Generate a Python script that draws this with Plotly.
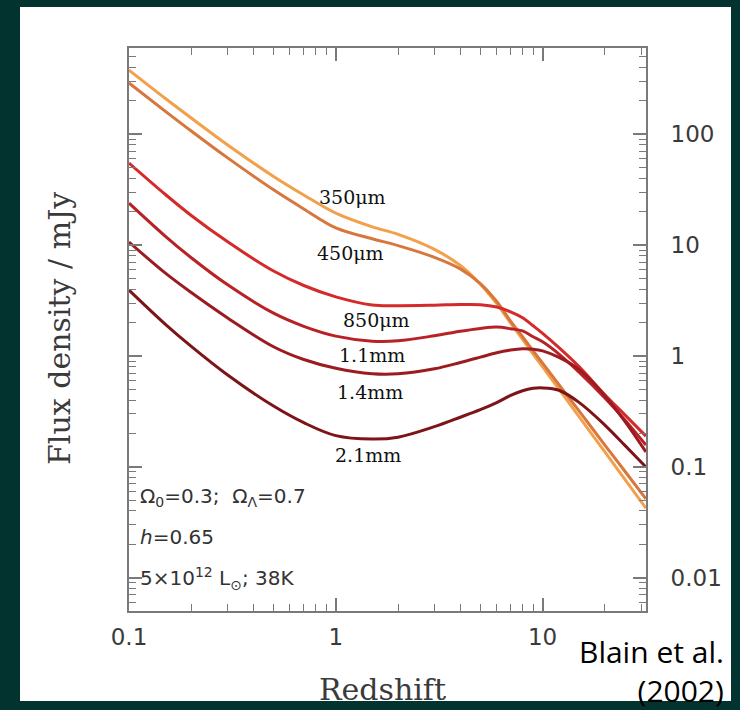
import plotly.graph_objects as go

# Redshift grid
redshift = [0.1, 0.15, 0.2, 0.3, 0.5, 0.7, 1.0, 1.5, 2, 3, 4, 5, 6, 7, 8, 9, 10, 12, 15, 20, 25, 31.6]

# Flux density (mJy)
flux_350um = [379, 210, 140, 80.0, 41.6, 28.3, 19.4, 14.6, 12.5, 9.16, 6.54, 4.44, 2.96, 1.98,
              1.41, 1.04, 0.797, 0.501, 0.284, 0.136, 0.0770, 0.0424]
flux_450um = [290, 161, 107, 61.2, 31.5, 21.2, 14.3, 11.4, 9.9, 7.76, 6.10, 4.50, 3.10, 2.06,
              1.49, 1.11, 0.860, 0.550, 0.319, 0.157, 0.0911, 0.0513]
flux_850um = [55.0, 28.6, 18.5, 10.7, 5.83, 4.32, 3.41, 2.88, 2.84, 2.87, 2.91, 2.90, 2.76, 2.50,
              2.21, 1.87, 1.60, 1.19, 0.802, 0.447, 0.294, 0.189]
flux_1p1mm = [23.9, 12.0, 7.69, 4.38, 2.43, 1.85, 1.51, 1.36, 1.37, 1.52, 1.67, 1.77, 1.82, 1.76,
              1.68, 1.49, 1.34, 1.04, 0.714, 0.418, 0.265, 0.157]
flux_1p4mm = [10.65, 5.58, 3.73, 2.20, 1.21, 0.928, 0.774, 0.691, 0.690, 0.765, 0.872, 0.975, 1.07,
              1.13, 1.16, 1.15, 1.11, 0.969, 0.756, 0.438, 0.257, 0.136]
flux_2p1mm = [3.93, 1.93, 1.22, 0.673, 0.353, 0.250, 0.191, 0.178, 0.185, 0.230, 0.280, 0.328, 0.380,
              0.440, 0.485, 0.510, 0.515, 0.490, 0.381, 0.238, 0.156, 0.0995]

series_names = ["350μm", "450μm", "850μm", "1.1mm", "1.4mm", "2.1mm"]
series_values = [flux_350um, flux_450um, flux_850um, flux_1p1mm, flux_1p4mm, flux_2p1mm]
series_colors = ["#F2A04A", "#D8773C", "#D42A2A", "#B82226", "#9C1B20", "#7C1418"]

# label positions in paper coordinates
label_pos = [(0.433, 0.735), (0.428, 0.636), (0.478, 0.517), (0.470, 0.455), (0.466, 0.389), (0.462, 0.277)]

fig = go.Figure()
for name, vals, col in zip(series_names, series_values, series_colors):
    fig.add_trace(go.Scatter(x=redshift, y=vals, mode="lines", name=name,
                             line=dict(color=col, width=3, shape="spline", smoothing=1.0),
                             showlegend=False, hoverinfo="skip"))

annotations = []
for name, (xp, yp) in zip(series_names, label_pos):
    annotations.append(dict(text=name, x=xp, y=yp, xref="paper", yref="paper", showarrow=False,
                            xanchor="center", yanchor="middle",
                            font=dict(family="DejaVu Serif", size=19, color="#111111")))

info_font = dict(family="DejaVu Sans", size=20, color="#333333")
annotations += [
    dict(text="Ω<sub>0</sub>=0.3;  Ω<sub>Λ</sub>=0.7", x=0.017, y=0.2025, xref="paper", yref="paper",
         showarrow=False, xanchor="left", yanchor="middle", font=info_font),
    dict(text="<i>h</i>=0.65", x=0.017, y=0.1314, xref="paper", yref="paper",
         showarrow=False, xanchor="left", yanchor="middle", font=info_font),
    dict(text="5×10<sup>12</sup> L<sub>⊙</sub>; 38K", x=0.017, y=0.058, xref="paper", yref="paper",
         showarrow=False, xanchor="left", yanchor="middle", font=info_font),
    dict(text="Redshift", x=0.49, y=-0.1403, xref="paper", yref="paper", showarrow=False,
         xanchor="center", yanchor="middle", font=dict(family="DejaVu Serif", size=30, color="#3a3a3a")),
    dict(text="Flux density / mJy", x=-0.1335, y=0.5027, xref="paper", yref="paper", showarrow=False,
         textangle=-90, xanchor="center", yanchor="middle",
         font=dict(family="DejaVu Serif", size=30, color="#3a3a3a")),
    dict(text="Blain et al.<br>(2002)", x=1.1547, y=-0.1057, xref="paper", yref="paper", showarrow=False,
         xanchor="right", yanchor="middle", align="right",
         font=dict(family="Open Sans", size=30, color="#000000")),
]

axis_col = "#7a7a7a"
tick_font = dict(family="DejaVu Sans", size=23, color="#3a3a3a")

fig.update_layout(
    width=740, height=710,
    margin=dict(l=129, r=94, t=48, b=99),
    paper_bgcolor="#03332F",
    plot_bgcolor="#FFFFFF",
    annotations=annotations,
    shapes=[dict(type="rect", xref="paper", yref="paper", x0=-0.2108, x1=1.1644, y0=-0.1599, y1=1.0728,
                 fillcolor="#FFFFFF", line=dict(width=0), layer="below")],
    xaxis=dict(type="log", range=[-1, 1.5], dtick=1, showgrid=False, zeroline=False,
               showline=True, linecolor=axis_col, linewidth=2, mirror="ticks",
               ticks="inside", ticklen=13, tickwidth=1.5, tickcolor=axis_col,
               tickfont=tick_font, ticklabelstandoff=4,
               minor=dict(ticks="inside", ticklen=7, tickwidth=1.3, tickcolor=axis_col, showgrid=False)),
    yaxis=dict(type="log", range=[-2.301, 2.778], dtick=1, side="right", showgrid=False, zeroline=False,
               showline=True, linecolor=axis_col, linewidth=2, mirror="ticks",
               ticks="inside", ticklen=13, tickwidth=1.5, tickcolor=axis_col,
               tickfont=tick_font, ticklabelstandoff=18,
               minor=dict(ticks="inside", ticklen=7, tickwidth=1.3, tickcolor=axis_col, showgrid=False)),
)

fig.write_html("out.html")
